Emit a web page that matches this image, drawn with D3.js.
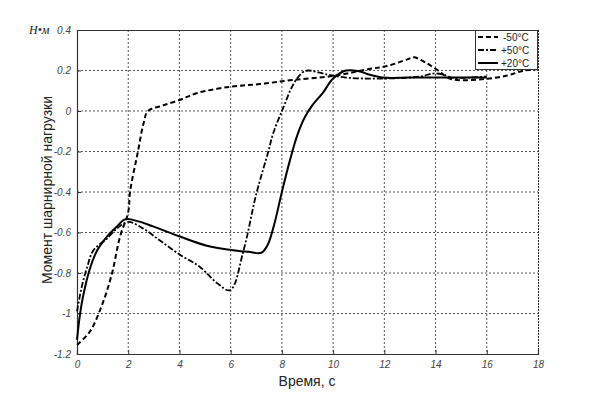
<!DOCTYPE html>
<html><head><meta charset="utf-8">
<script src="https://cdn.jsdelivr.net/npm/d3@7"></script>
<style>body{margin:0;background:#fff}svg{display:block}</style>
</head><body>
<svg id="c" width="594" height="398"></svg>
<script>
const xTicks = [0,2,4,6,8,10,12,14,16,18];
const yTicks = [0.4,0.2,0,-0.2,-0.4,-0.6,-0.8,-1,-1.2];
const seriesNames = ["-50°C","+50°C","+20°C"];
const tMinus50 = [0,0.5,1,1.37,1.68,2,2.07,2.38,2.6,2.77,3.3,4,4.7,6,7.15,8.4,10,11.4,12.1,12.9,13.15,13.6,14.1,14.6,15.9,16.8,17.4,18];
const vMinus50 = [-1.155,-1.09,-0.95,-0.8,-0.62,-0.5,-0.4,-0.2,-0.06,0,0.025,0.054,0.089,0.12,0.133,0.153,0.173,0.207,0.222,0.255,0.265,0.24,0.2,0.158,0.158,0.175,0.198,0.207];
const tPlus50 = [0,0.2,0.4,0.63,1.17,1.56,2,2.58,3.24,4.02,4.8,5.47,5.98,6.5,7,7.47,7.66,8.05,8.44,8.8,9.02,9.77,10.5,11.45,12.5,13.4,13.9,14.3,14.6,15.3,16];
const vPlus50 = [-0.99,-0.86,-0.77,-0.69,-0.63,-0.58,-0.548,-0.58,-0.64,-0.71,-0.77,-0.85,-0.885,-0.69,-0.41,-0.2,-0.11,0.015,0.13,0.19,0.2,0.18,0.165,0.16,0.162,0.17,0.185,0.18,0.165,0.165,0.17];
const tPlus20 = [0,0.1,0.23,0.5,0.78,1.17,1.56,1.88,2.4,2.97,4.02,5.07,6.25,6.7,7.2,7.45,7.7,8.0,8.3,8.6,8.9,9.2,9.6,10,10.5,11.05,11.4,11.95,13,14,15,16];
const vPlus20 = [-1.13,-1.02,-0.92,-0.78,-0.69,-0.62,-0.57,-0.535,-0.545,-0.57,-0.62,-0.665,-0.69,-0.695,-0.7,-0.66,-0.56,-0.40,-0.25,-0.12,-0.03,0.03,0.09,0.16,0.2,0.195,0.18,0.165,0.165,0.165,0.165,0.165];

const svg = d3.select("#c");
const L=77,R=538,T=30,B=354;
const x = d3.scaleLinear().domain([0,18]).range([L,R]);
const y = d3.scaleLinear().domain([-1.2,0.4]).range([B,T]);

// grid
const g = svg.append("g");
g.selectAll(".gx").data(xTicks.slice(1,-1)).join("line")
 .attr("x1",d=>x(d)).attr("x2",d=>x(d)).attr("y1",T).attr("y2",B)
 .attr("stroke","#555").attr("stroke-width",1).attr("stroke-dasharray","2,2");
g.selectAll(".gy").data(yTicks.slice(1,-1)).join("line")
 .attr("x1",L).attr("x2",R).attr("y1",d=>y(d)).attr("y2",d=>y(d))
 .attr("stroke","#555").attr("stroke-width",1).attr("stroke-dasharray","2,2");

// frame
svg.append("line").attr("x1",L).attr("x2",R).attr("y1",T+0.5).attr("y2",T+0.5).attr("stroke","#333");
svg.append("line").attr("x1",R+0.5).attr("x2",R+0.5).attr("y1",T).attr("y2",B).attr("stroke","#222").attr("stroke-dasharray","2,1");

// axes
const xa = svg.append("g").attr("transform",`translate(0,${B})`)
 .call(d3.axisBottom(x).tickValues(xTicks).tickSize(-4).tickFormat(d3.format("d")));
const ya = svg.append("g").attr("transform",`translate(${L},0)`)
 .call(d3.axisLeft(y).tickValues(yTicks).tickSize(-4).tickFormat(d=>d===0?"0":String(d)));
[xa,ya].forEach(a=>{
 a.select(".domain").attr("stroke","#333").attr("stroke-width",1.2);
 a.selectAll(".tick line").attr("stroke","#333");
 a.selectAll("text").attr("font-family","Arial, 'Liberation Sans', sans-serif").attr("font-size",10).attr("font-style","italic").attr("fill","#444");
});
xa.selectAll("text").attr("dy","1.1em");
ya.selectAll("text").attr("x",-6);

// lines
const line2 = d3.line().x(d=>x(d[0])).y(d=>y(d[1])).curve(d3.curveCatmullRom.alpha(0.5));
const sets = [
 {t:tMinus50,v:vMinus50,dash:"5,3",w:2},
 {t:tPlus50,v:vPlus50,dash:"6,2,2,2",w:1.8},
 {t:tPlus20,v:vPlus20,dash:null,w:2}
];
sets.forEach(s=>{
 const pts = s.t.map((t,i)=>[t,s.v[i]]);
 svg.append("path").attr("d",line2(pts)).attr("fill","none").attr("stroke","#000")
  .attr("stroke-width",s.w).attr("stroke-dasharray",s.dash);
});

// legend
const lg = svg.append("g");
lg.append("rect").attr("x",475.5).attr("y",30.5).attr("width",62).attr("height",39)
 .attr("fill","#fff").attr("stroke","#333");
seriesNames.forEach((n,i)=>{
 const yy = 37+i*13;
 lg.append("line").attr("x1",478).attr("x2",498).attr("y1",yy).attr("y2",yy)
  .attr("stroke","#000").attr("stroke-width",2).attr("stroke-dasharray",sets[i].dash);
 lg.append("text").attr("x",i==0?503:501).attr("y",yy+4).text(n)
  .attr("font-family","Arial, 'Liberation Sans', sans-serif").attr("font-size",10).attr("fill","#222");
});

// labels
svg.append("text").attr("x",307).attr("y",386).attr("text-anchor","middle")
 .attr("font-family","Arial, 'Liberation Sans', sans-serif").attr("font-size",14).attr("fill","#222").text("Время, с");
svg.append("text").attr("transform","translate(52,190) rotate(-90)").attr("text-anchor","middle")
 .attr("font-family","Arial, 'Liberation Sans', sans-serif").attr("font-size",14).attr("fill","#222").text("Момент шарнирной нагрузки");
svg.append("text").attr("x",29).attr("y",34)
 .attr("font-family","'Liberation Serif', 'DejaVu Serif', serif").attr("font-size",12).attr("font-style","italic").attr("fill","#222").text("Н•м");
</script>
</body></html>
